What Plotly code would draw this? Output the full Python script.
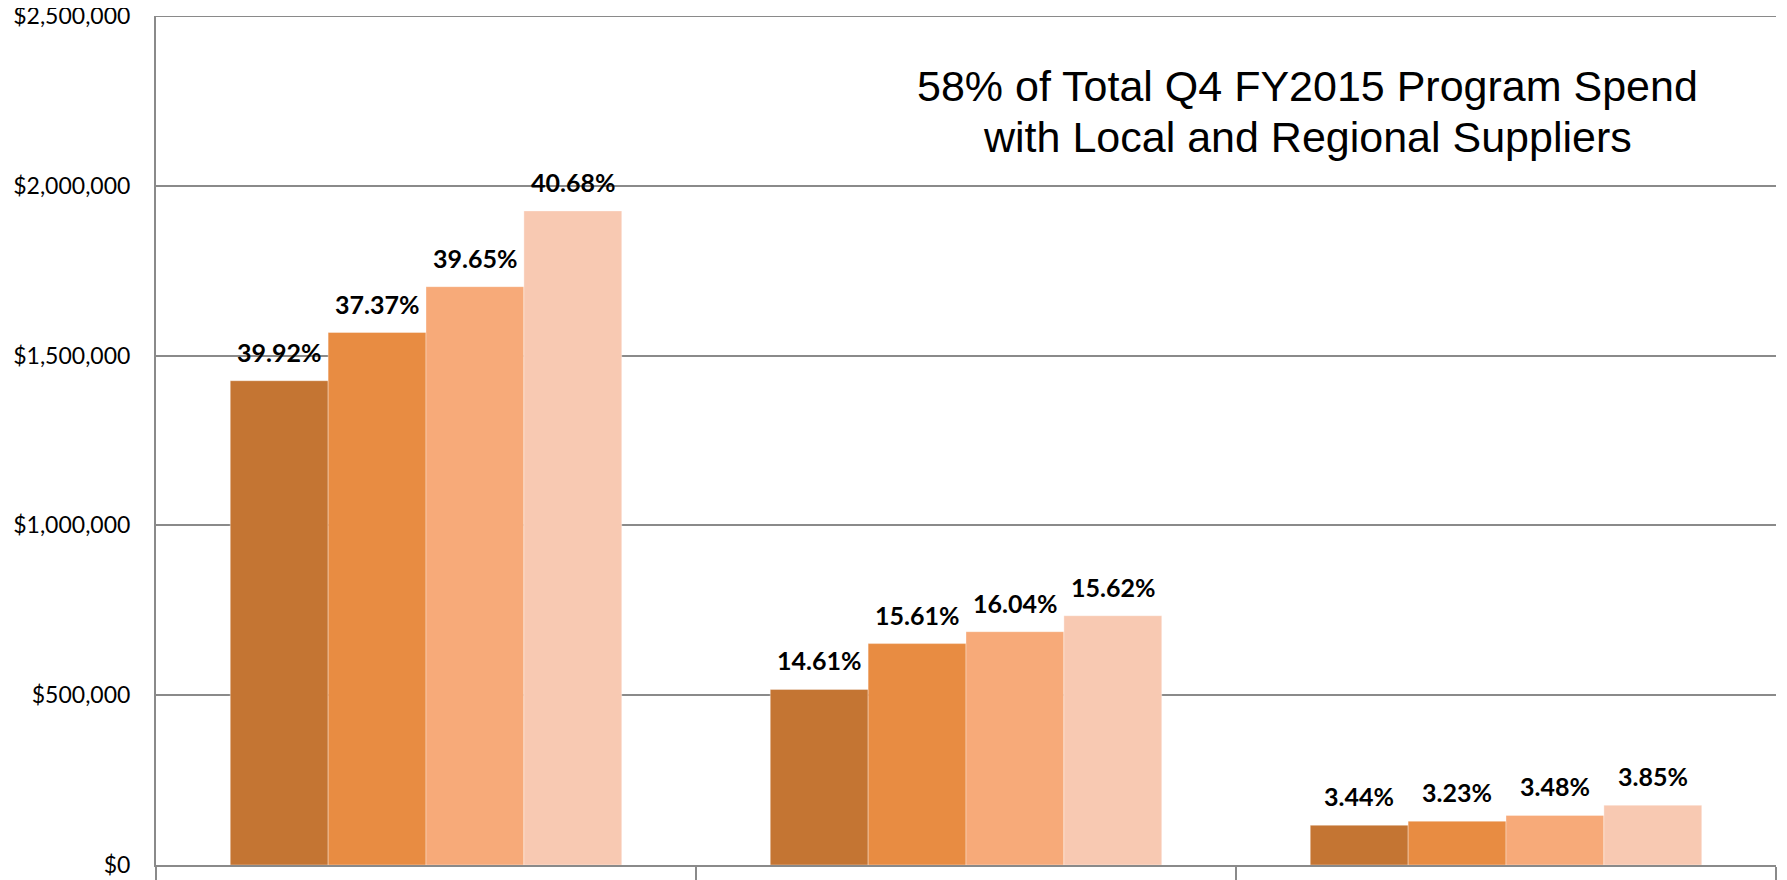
import plotly.graph_objects as go

categories = ["Local", "Regional", "State"]
series_names = ["Q1 FY2015", "Q2 FY2015", "Q3 FY2015", "Q4 FY2015"]
q1_values = [1426000, 517000, 117000]
q2_values = [1568000, 652000, 129000]
q3_values = [1703000, 687000, 146000]
q4_values = [1926000, 734000, 176000]
q1_pct = ["39.92%", "14.61%", "3.44%"]
q2_pct = ["37.37%", "15.61%", "3.23%"]
q3_pct = ["39.65%", "16.04%", "3.48%"]
q4_pct = ["40.68%", "15.62%", "3.85%"]
y_ticks = [0, 500000, 1000000, 1500000, 2000000, 2500000]
y_tick_labels = ["$" + f"{v:,}" for v in y_ticks]
title_line1 = "58% of Total Q4 FY2015 Program Spend"
title_line2 = "with Local and Regional Suppliers"

colors = ["#C47533", "#E88C42", "#F7AA79", "#F8C9B2"]
grid_color = "#8A8A8A"
values = [q1_values, q2_values, q3_values, q4_values]
pcts = [q1_pct, q2_pct, q3_pct, q4_pct]

BARGAP = 0.275
n_series = len(values)
bar_w = (1 - BARGAP) / n_series

fig = go.Figure()
for i, (name, vals) in enumerate(zip(series_names, values)):
    fig.add_trace(go.Bar(
        x=categories, y=vals, name=name,
        marker=dict(color=colors[i], line=dict(color="rgba(255,255,255,0.35)", width=1)),
        showlegend=False, hoverinfo="skip",
    ))

annotations = []
for i, (vals, labels) in enumerate(zip(values, pcts)):
    for ci, (v, lab) in enumerate(zip(vals, labels)):
        annotations.append(dict(
            x=ci + (i - (n_series - 1) / 2) * bar_w, y=v, xref="x", yref="y",
            text=lab, showarrow=False, yanchor="bottom", xanchor="center", yshift=12,
            font=dict(family="Lato", size=25, color="#000000", weight="bold"),
        ))

for txt, ypos in [(title_line1, 0.9175), (title_line2, 0.8575)]:
    annotations.append(dict(
        x=0.711, y=ypos, xref="paper", yref="paper", text=txt, showarrow=False,
        xanchor="center", yanchor="middle", align="center",
        font=dict(family="Liberation Sans, Arial", size=43, color="#000000"),
    ))

# top gridline at the upper end of the value axis
fig.add_shape(type="line", xref="paper", yref="y", x0=0, x1=1,
              y0=y_ticks[-1], y1=y_ticks[-1], line=dict(color=grid_color, width=2), layer="below")

fig.update_layout(
    width=1779, height=872,
    margin=dict(l=148, r=11, t=8, b=15, autoexpand=False),
    paper_bgcolor="white", plot_bgcolor="white",
    barmode="group", bargap=BARGAP, bargroupgap=0,
    annotations=annotations,
    showlegend=False,
)
fig.update_xaxes(
    type="category", showticklabels=False, showgrid=False, automargin=False,
    showline=True, linecolor=grid_color, linewidth=2,
    ticks="outside", tickson="boundaries", ticklen=15, tickcolor=grid_color, tickwidth=2,
)
fig.update_yaxes(
    range=[0, 2500000], tickmode="array", tickvals=y_ticks, ticktext=y_tick_labels,
    showgrid=True, gridcolor=grid_color, gridwidth=2, zeroline=False,
    showline=True, linecolor=grid_color, linewidth=2, automargin=False,
    ticks="", ticklabelstandoff=19, ticklabeloverflow="allow",
    tickfont=dict(family="Lato", size=23, color="#000000"),
)

fig.write_html("out.html")
